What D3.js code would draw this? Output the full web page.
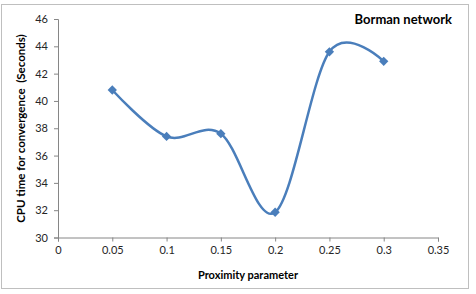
<!DOCTYPE html>
<html><head><meta charset="utf-8">
<script src="https://cdn.jsdelivr.net/npm/d3@7"></script>
<style>body{margin:0;background:#fff}</style>
</head><body>
<svg id="c" width="476" height="294"></svg>
<script>
const xValues = [0.05, 0.1, 0.15, 0.2, 0.25, 0.3];
const cpuTimes = [40.8, 37.4, 37.6, 31.85, 43.6, 42.9];
const xTicks = [0, 0.05, 0.1, 0.15, 0.2, 0.25, 0.3, 0.35];
const yTicks = [30, 32, 34, 36, 38, 40, 42, 44, 46];
const title = "Borman network";
const xLabel = "Proximity parameter";
const yLabel = "CPU time for convergence  (Seconds)";

const svg = d3.select("#c");
const font = "Lato, 'Open Sans', sans-serif";
svg.append("rect").attr("x",1.5).attr("y",4.5).attr("width",467).attr("height",284)
  .attr("fill","#fff").attr("stroke","#bfbfbf").attr("stroke-width",1);

const x = d3.scaleLinear().domain([0,0.35]).range([58,438]);
const y = d3.scaleLinear().domain([30,46]).range([237.5,19]);

const xa = svg.append("g").attr("transform","translate(0,237.5)")
  .call(d3.axisBottom(x).tickValues(xTicks).tickFormat(d=>String(d)).tickSizeOuter(0).tickSize(4).tickPadding(5));
const ya = svg.append("g").attr("transform","translate(58,0)")
  .call(d3.axisLeft(y).tickValues(yTicks).tickFormat(d=>String(d)).tickSizeOuter(0).tickSize(4).tickPadding(6));
[xa,ya].forEach(a=>{
  a.selectAll("path,line").attr("stroke","#868686");
  a.selectAll("text").attr("fill","#262626").style("font-family",font).style("font-size","11px");
});

const pts = xValues.map((v,i)=>[v,cpuTimes[i]]);
const line = d3.line().x(d=>x(d[0])).y(d=>y(d[1])).curve(d3.curveCardinal.tension(0));
svg.append("path").attr("d",line(pts)).attr("fill","none").attr("stroke","#4a7ebb").attr("stroke-width",2.5);
svg.selectAll(".m").data(pts).enter().append("path")
  .attr("transform",d=>`translate(${x(d[0])},${y(d[1])})`)
  .attr("d",d3.symbol(d3.symbolDiamond2,55)).attr("fill","#4a7ebb");

svg.append("text").attr("x",452).attr("y",24).attr("text-anchor","end")
  .style("font-family",font).style("font-weight","bold").style("font-size","13px").attr("fill","#000").text(title);
svg.append("text").attr("x",248).attr("y",279).attr("text-anchor","middle")
  .style("font-family",font).style("font-weight","bold").style("font-size","11px").attr("fill","#000").text(xLabel);
svg.append("text").attr("transform","translate(25,128.5) rotate(-90)").attr("text-anchor","middle")
  .style("white-space","pre")
  .style("font-family",font).style("font-weight","bold").style("font-size","11.5px").attr("fill","#000").text(yLabel);
</script>
</body></html>
